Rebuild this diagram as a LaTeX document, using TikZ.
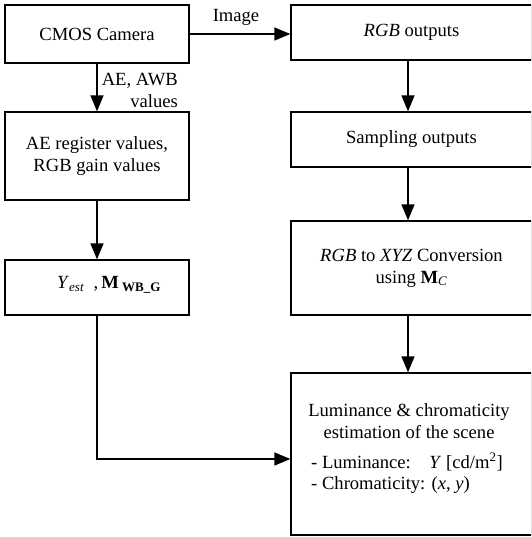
\documentclass[tikz,border=0pt]{standalone}
\usepackage{fontspec}
\setmainfont{Liberation Serif}
\usetikzlibrary{arrows.meta}
\begin{document}
\begin{tikzpicture}[x=1pt,y=-1pt,
  box/.style={draw=black,line width=1.3pt,rectangle,inner sep=0pt,align=center,font=\fontsize{18.6}{22}\selectfont},
  lbl/.style={inner sep=0pt,font=\fontsize{18.6}{22}\selectfont},
  arr/.style={line width=1.3pt,-{Triangle[length=16pt,width=13pt]}},
  ln/.style={line width=1.3pt}]
\useasboundingbox (0,0) rectangle (531,537);
\clip (0,0) rectangle (531,537);
% left column
\node[box,minimum width=184pt,minimum height=58pt] (cam) at (97,34) {CMOS Camera};
\node[box,minimum width=184pt,minimum height=88pt] (ae) at (97,156) {AE register values,\\RGB gain values};
\node[box,minimum width=184pt,minimum height=55pt] (yest) at (97,287.5) {};
\node[lbl,anchor=west] (yesttxt) at (57,285) {\textit{Y}\textsubscript{\textit{est}}\ \ ,\,\textbf{M}\,\textsubscript{\textbf{WB\_G}}};
% right column
\node[box,minimum width=241pt,minimum height=55pt] (rgb) at (411.5,32.5) {\textit{RGB} outputs};
\node[box,minimum width=241pt,minimum height=55pt] (samp) at (411.5,139.5) {Sampling outputs};
\node[box,minimum width=241pt,minimum height=94pt] (xyz) at (411.5,268) {\textit{RGB} to \textit{XYZ} Conversion\\using \textbf{M}\textsubscript{\textit{C}}};
\node[box,minimum width=241pt,minimum height=162pt] (lum) at (411.5,454) {};
\node[lbl,align=center] (lumtitle) at (409,421.5) {Luminance \& chromaticity\\estimation of the scene};
\node[lbl,anchor=west] (lumY) at (311,462) {- Luminance:\quad \textit{Y} [cd/m\textsuperscript{2}]};
\node[lbl,anchor=west] (lumxy) at (311,485) {- Chromaticity: (\textit{x}, \textit{y})};
% labels
\node[lbl] (imglbl) at (236,17) {Image};
\node[lbl,align=right,anchor=east] (aelbl) at (178,90) {AE, AWB\\values};
% connectors
\coordinate (xc) at (408,0);
\coordinate (bend) at (97,459);
\draw[arr] (cam.east) -- (cam.east -| rgb.west);
\draw[arr] (cam.south) -- (ae.north);
\draw[arr] (ae.south) -- (yest.north);
\draw[arr] (rgb.south -| xc) -- (samp.north -| xc);
\draw[arr] (samp.south -| xc) -- (xyz.north -| xc);
\draw[arr] (xyz.south -| xc) -- (lum.north -| xc);
\draw[arr] (yest.south) -- (bend) -- (bend -| lum.west);
\end{tikzpicture}
\end{document}
